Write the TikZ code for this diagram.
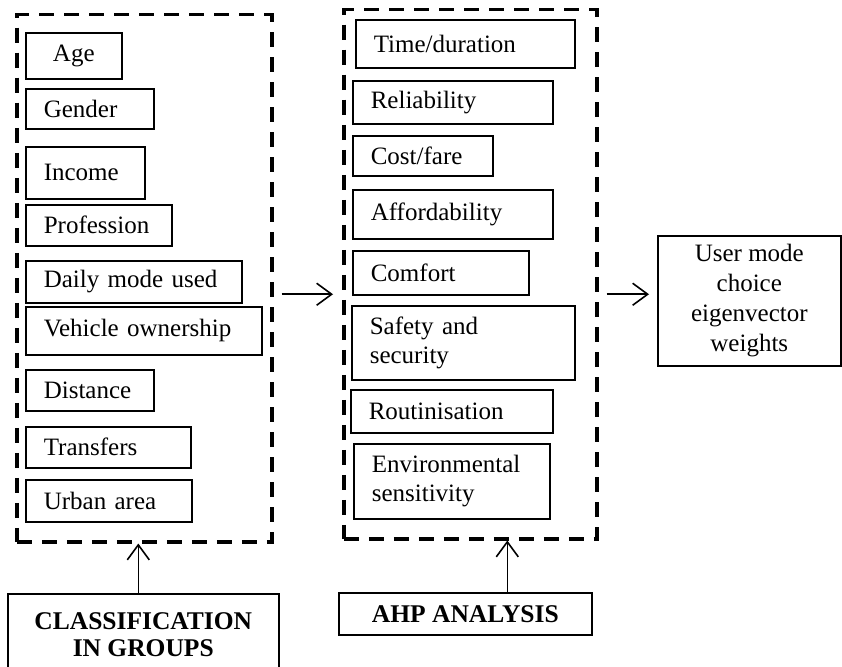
\documentclass[tikz,border=0pt]{standalone}
\usepackage{fontspec}
\setmainfont{Liberation Serif}
\usetikzlibrary{arrows.meta,calc}

\tikzset{
  fac/.style={draw, line width=1.6pt, anchor=north west, inner xsep=18pt, inner ysep=0pt,
    align=left, font=\fontsize{25}{29}\selectfont},
  grpbox/.style={draw, line width=3.5pt, dash pattern=on 15pt off 10pt, anchor=north west, inner sep=0pt},
  mainbox/.style={draw, line width=1.6pt, anchor=north west, inner sep=0pt, align=center},
  arr/.style={line width=1.6pt, -{Straight Barb[length=15pt,width=22pt,line width=1.6pt]}}
}

\begin{document}
\begin{tikzpicture}[x=1pt, y=-1pt]
        \useasboundingbox (0,0) rectangle (842,666);

        % Groups
        \node[grpbox, minimum width=255pt, minimum height=527pt] (grp) at (15,13) {};
        \node[fac, text width=60pt, align=center, minimum height=46pt] (age) at (25,32) {Age};
        \node[fac, text width=92pt, minimum height=40pt] (gender) at (25,88) {Gender};
        \node[fac, text width=83pt, minimum height=52pt] (income) at (25,146) {Income};
        \node[fac, text width=110pt, minimum height=41pt] (prof) at (25,204) {Profession};
        \node[fac, text width=180pt, minimum height=42pt] (daily) at (25,260) {Daily mode used};
        \node[fac, text width=200pt, minimum height=48pt] (vehicle) at (25,306) {Vehicle ownership};
        \node[fac, text width=92pt, minimum height=41pt] (dist) at (25,369) {Distance};
        \node[fac, text width=129pt, minimum height=41pt] (transf) at (25,426) {Transfers};
        \node[fac, text width=130pt, minimum height=42pt] (urban) at (25,479) {Urban area};

        % Criteria
        \node[grpbox, minimum width=253pt, minimum height=529pt] (crit) at (342,8) {};
        \node[fac, text width=183pt, minimum height=48pt] (time) at (355,19) {Time/duration};
        \node[fac, text width=164pt, minimum height=43pt] (rel) at (352,80) {Reliability};
        \node[fac, text width=104pt, minimum height=40pt] (cost) at (352,135) {Cost/fare};
        \node[fac, text width=164pt, minimum height=49pt] (afford) at (352,189) {Affordability};
        \node[fac, text width=140pt, minimum height=44pt] (comfort) at (352,250) {Comfort};
        \node[fac, text width=187pt, minimum height=74pt] (safety) at (351,305) {Safety and\\security};
        \node[fac, text width=166pt, minimum height=43pt] (rout) at (350,389) {Routinisation};
        \node[fac, text width=160pt, minimum height=75pt] (env) at (353,443) {Environmental\\sensitivity};

        % Result
        \node[mainbox, minimum width=183pt, minimum height=130pt, font=\fontsize{25}{30}\selectfont] (res) at (657,235)
          {User mode\\choice\\eigenvector\\weights};

        % Bottom boxes
        \node[mainbox, minimum width=271pt, minimum height=81pt, font=\bfseries\fontsize{25.5}{27}\selectfont] (class) at (7,593)
          {CLASSIFICATION\\IN GROUPS};
        \node[mainbox, minimum width=253pt, minimum height=42pt, font=\bfseries\fontsize{25.5}{27}\selectfont] (ahp) at (338,592)
          {AHP ANALYSIS};

        % Arrows
        \draw[arr] ($(grp.east)+(8pt,-16pt)$) -- ($(grp.east -| crit.west)+(-9pt,-16pt)$);
        \draw[arr] ($(crit.east)+(8pt,-20pt)$) -- ($(crit.east -| res.west)+(-8pt,-20pt)$);
        \draw[arr] ([xshift=-5pt]class.north) -- ([xshift=-5pt]class.north |- grp.south);
        \draw[arr] ([xshift=42pt]ahp.north) -- ([xshift=42pt]ahp.north |- crit.south);
    \end{tikzpicture}
\end{document}
